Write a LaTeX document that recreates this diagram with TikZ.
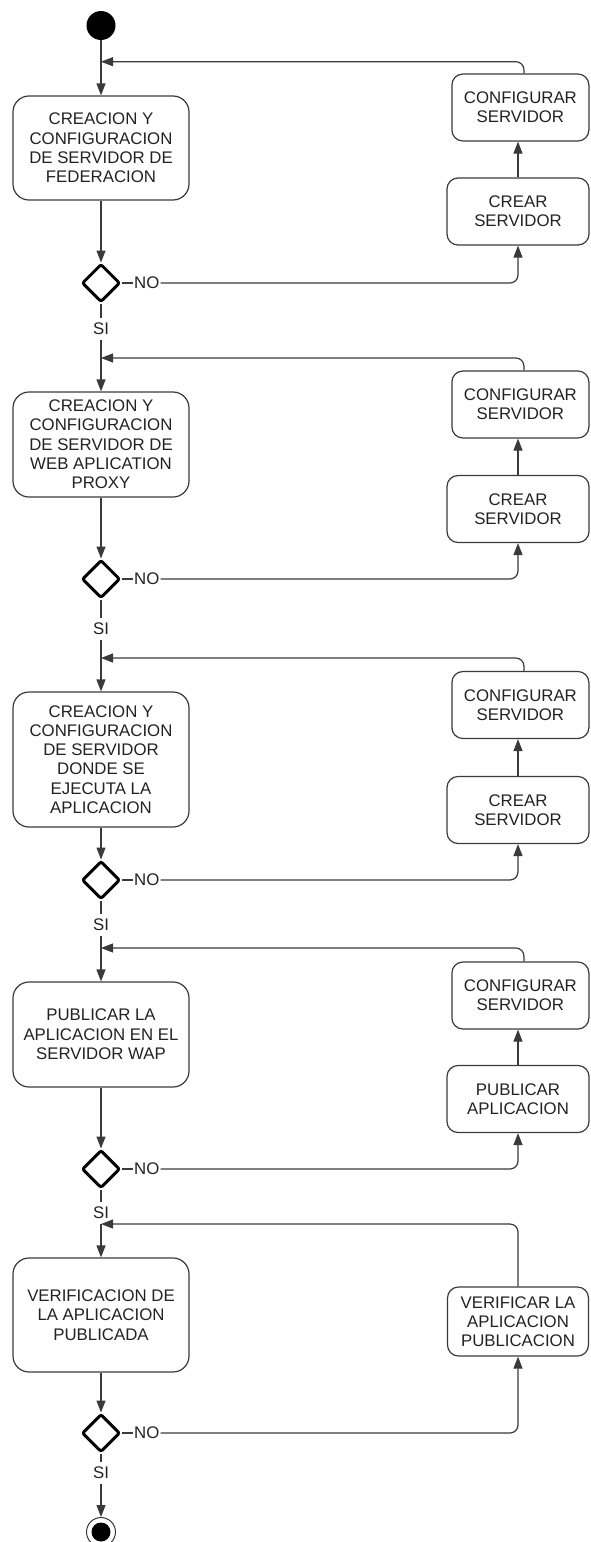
\documentclass[tikz,border=0pt]{standalone}
\usepackage{fontspec}
\setmainfont{Liberation Sans}
\usetikzlibrary{shapes.geometric,arrows.meta}
\definecolor{ink}{HTML}{222222}
\definecolor{edge}{HTML}{3A3A3A}
\begin{document}
\begin{tikzpicture}[x=1pt,y=-1pt,
  every node/.style={font=\fontsize{16.8}{19.3}\selectfont, text=ink},
  mainbox/.style={draw=edge, line width=1.2pt, rounded corners=16pt, minimum width=176pt, align=center, inner sep=0pt},
  confbox/.style={draw=edge, line width=1.2pt, rounded corners=11pt, minimum width=137pt, minimum height=67pt, align=center, inner sep=0pt},
  sidebox/.style={draw=edge, line width=1.2pt, rounded corners=11pt, minimum width=142pt, minimum height=67pt, align=center, inner sep=0pt},
  decision/.style={diamond, aspect=1, draw=black, line width=3pt, minimum width=38pt, minimum height=38pt, inner sep=0pt, rounded corners=2pt},
  lbl/.style={inner xsep=1pt, inner ysep=5pt},
  flow/.style={draw=edge, line width=1.2pt},
  arr/.style={flow, -{Triangle[length=12pt,width=9pt]}},
  back/.style={arr, rounded corners=8pt},
]
\useasboundingbox (0,0) rectangle (590,1542);

% start
\node[circle, fill=black, minimum size=29pt, inner sep=0pt] (start) at (101,25.5) {};

% ---- stage 1: federation server
\coordinate (m1) at (101,61.7);
\node[mainbox, minimum height=104pt] (b1) at (101,148) {CREACION Y\\CONFIGURACION\\DE SERVIDOR DE\\FEDERACION};
\node[decision] (d1) at (101,283) {};
\node[lbl, anchor=west] (no1) at (133,283) {NO};
\node[lbl] (si1) at (101,329) {SI};
\node[confbox] (cf1) at (520.4,107.5) {CONFIGURAR\\SERVIDOR};
\node[sidebox] (cr1) at (518,211.5) {CREAR\\SERVIDOR};

% ---- stage 2: web application proxy
\coordinate (m2) at (101,358);
\node[mainbox, minimum height=105pt] (b2) at (101,444.5) {CREACION Y\\CONFIGURACION\\DE SERVIDOR DE\\WEB APLICATION\\PROXY};
\node[decision] (d2) at (101,579) {};
\node[lbl, anchor=west] (no2) at (133,579) {NO};
\node[lbl] (si2) at (101,629) {SI};
\node[confbox] (cf2) at (520.4,404.5) {CONFIGURAR\\SERVIDOR};
\node[sidebox] (cr2) at (518,509) {CREAR\\SERVIDOR};

% ---- stage 3: application server
\coordinate (m3) at (101,658);
\node[mainbox, minimum height=135pt] (b3) at (101,759.5) {CREACION Y\\CONFIGURACION\\DE SERVIDOR\\DONDE SE\\EJECUTA LA\\APLICACION};
\node[decision] (d3) at (101,880) {};
\node[lbl, anchor=west] (no3) at (133,880) {NO};
\node[lbl] (si3) at (101,925) {SI};
\node[confbox] (cf3) at (520.4,705) {CONFIGURAR\\SERVIDOR};
\node[sidebox] (cr3) at (518,810) {CREAR\\SERVIDOR};

% ---- stage 4: publish on WAP
\coordinate (m4) at (101,948);
\node[mainbox, minimum height=105pt] (b4) at (101,1034.5) {PUBLICAR LA\\APLICACION EN EL\\SERVIDOR WAP};
\node[decision] (d4) at (101,1169) {};
\node[lbl, anchor=west] (no4) at (133,1169) {NO};
\node[lbl] (si4) at (101,1213) {SI};
\node[confbox] (cf4) at (520.4,995.5) {CONFIGURAR\\SERVIDOR};
\node[sidebox] (cr4) at (518,1099) {PUBLICAR\\APLICACION};

% ---- stage 5: verification
\coordinate (m5) at (101,1224);
\node[mainbox, minimum height=114pt] (b5) at (101,1315) {VERIFICACION DE\\LA APLICACION\\PUBLICADA};
\node[decision] (d5) at (101,1433) {};
\node[lbl, anchor=west] (no5) at (133,1433) {NO};
\node[lbl] (si5) at (101,1473) {SI};
\node[sidebox, minimum width=141pt, minimum height=69pt] (vf5) at (518,1321.5) {VERIFICAR LA\\APLICACION\\PUBLICACION};

% end
\node[circle, draw=edge, line width=1pt, minimum size=29pt, inner sep=0pt] (fin) at (101,1532) {};
\fill[black] (fin.center) circle (9.5pt);

% main flow
\draw[arr] (start.south) -- (b1.north);
\foreach \i/\j in {1/2,2/3,3/4,4/5}{
  \draw[arr] (b\i.south) -- (d\i.north);
  \draw[flow] (d\i.south) -- (si\i.north);
  \draw[arr] (si\i.south) -- (b\j.north);
}
\draw[arr] (b5.south) -- (d5.north);
\draw[flow] (d5.south) -- (si5.north);
\draw[arr] (si5.south) -- (fin.north);

% retry loops
\foreach \i in {1,2,3,4}{
  \draw[flow] (d\i.east) -- (no\i.west);
  \draw[back] (no\i.east) -| (cr\i.south);
  \draw[arr] (cr\i.north) -- (cr\i.north |- cf\i.south);
  \draw[back] ([xshift=3.5pt]cf\i.north) |- (m\i);
}
\draw[flow] (d5.east) -- (no5.west);
\draw[back] (no5.east) -| (vf5.south);
\draw[back] (vf5.north) |- (m5);
\end{tikzpicture}
\end{document}
